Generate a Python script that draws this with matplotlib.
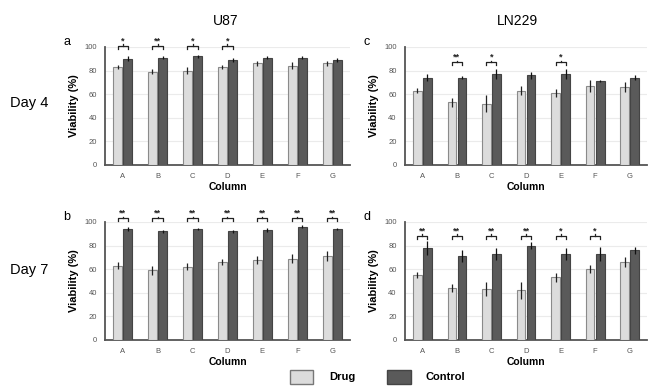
import numpy as np
import matplotlib
matplotlib.use('agg')
import matplotlib.pyplot as plt

plt.rcParams['font.family'] = ['Liberation Sans', 'DejaVu Sans']

columns = ['A', 'B', 'C', 'D', 'E', 'F', 'G']

# panel a: U87, day 4
a_drug = [83, 79, 80, 83, 86, 84, 86]
a_drug_err = [2, 2, 3, 2, 2.5, 3, 2.5]
a_ctrl = [90, 91, 92, 89, 91, 91, 89]
a_ctrl_err = [2, 1.5, 1.5, 2, 1, 1, 1.5]
a_sig = ['*', '**', '*', '*', '', '', '']

# panel b: U87, day 7
b_drug = [63, 59, 62, 66, 68, 69, 71]
b_drug_err = [3, 4, 3, 2.5, 3.5, 4, 4]
b_ctrl = [94, 92, 94, 92, 93, 96, 94]
b_ctrl_err = [1.5, 1, 0.5, 1.5, 1.5, 1, 1]
b_sig = ['**', '**', '**', '**', '**', '**', '**']

# panel c: LN229, day 4
c_drug = [63, 53, 52, 63, 61, 67, 66]
c_drug_err = [2, 4, 7, 4, 3.5, 5, 4.5]
c_ctrl = [74, 74, 77, 76, 77, 71, 74]
c_ctrl_err = [3, 1, 4, 3, 4, 1, 2]
c_sig = ['', '**', '*', '', '*', '', '']

# panel d: LN229, day 7
d_drug = [55, 44, 43, 42, 53, 60, 66]
d_drug_err = [2.5, 3, 6, 7, 4, 3.5, 4]
d_ctrl = [78, 71, 73, 80, 73, 73, 76]
d_ctrl_err = [6, 5, 5, 3, 5, 6, 3]
d_sig = ['**', '**', '**', '**', '*', '*', '']

DRUG_C = '#dcdcdc'
CTRL_C = '#5a5a5a'


def draw_panel(ax, drug, drug_err, ctrl, ctrl_err, sig, sig_y, letter):
    x = np.arange(len(columns))
    w = 0.25
    ax.bar(x - w/2 - 0.02, drug, w, yerr=drug_err, color=DRUG_C, edgecolor='#8a8a8a',
           lw=0.8, error_kw=dict(ecolor='#222222', elinewidth=0.9, capsize=0), zorder=3)
    ax.bar(x + w/2 + 0.02, ctrl, w, yerr=ctrl_err, color=CTRL_C, edgecolor='#444444',
           lw=0.8, error_kw=dict(ecolor='#111111', elinewidth=0.9, capsize=0), zorder=3)
    # significance brackets
    for i, s in enumerate(sig):
        if not s:
            continue
        x0, x1 = i - w/2 - 0.02, i + w/2 + 0.02
        xm = (x0 + x1) / 2
        ax.plot([x0, x0, x1, x1], [sig_y - 2.5, sig_y, sig_y, sig_y - 2.5],
                color='#222222', lw=0.9, clip_on=False, zorder=4)
        ax.plot([xm, xm], [sig_y, sig_y + 1.5], color='#222222', lw=0.9,
                clip_on=False, zorder=4)
        ax.text(xm, sig_y + 0.3, s, ha='center', va='bottom', fontsize=6.5,
                fontweight='bold', color='#222222', clip_on=False)
    ax.set_xlim(-0.5, 6.5)
    ax.set_ylim(0, 100)
    ax.set_yticks([0, 20, 40, 60, 80, 100])
    ax.set_xticks(x)
    ax.set_xticklabels(columns)
    ax.tick_params(length=0, labelsize=5.5, labelcolor='#555555', pad=6)
    ax.grid(axis='y', color='#ebebeb', lw=0.8, zorder=0)
    ax.set_axisbelow(True)
    for sp in ['top', 'right']:
        ax.spines[sp].set_visible(False)
    for sp in ['left', 'bottom']:
        ax.spines[sp].set_color('#555555')
        ax.spines[sp].set_linewidth(1.3)
    ax.set_ylabel('Viability (%)', fontsize=8, fontweight='bold', labelpad=4)
    ax.set_xlabel('Column', fontsize=7.5, fontweight='bold', labelpad=1)
    ax.text(-0.17, 1.04, letter, transform=ax.transAxes, fontsize=9,
            ha='left', va='center')


fig = plt.figure(figsize=(6.49, 3.88), dpi=100)
ax_a = fig.add_axes([0.162, 0.575, 0.377, 0.304])
ax_c = fig.add_axes([0.624, 0.575, 0.373, 0.304])
ax_b = fig.add_axes([0.162, 0.124, 0.377, 0.304])
ax_d = fig.add_axes([0.624, 0.124, 0.373, 0.304])

draw_panel(ax_a, a_drug, a_drug_err, a_ctrl, a_ctrl_err, a_sig, 101, 'a')
draw_panel(ax_c, c_drug, c_drug_err, c_ctrl, c_ctrl_err, c_sig, 87, 'c')
draw_panel(ax_b, b_drug, b_drug_err, b_ctrl, b_ctrl_err, b_sig, 103, 'b')
draw_panel(ax_d, d_drug, d_drug_err, d_ctrl, d_ctrl_err, d_sig, 88, 'd')

fig.text(0.347, 0.945, 'U87', ha='center', va='center', fontsize=10)
fig.text(0.798, 0.945, 'LN229', ha='center', va='center', fontsize=10)
fig.text(0.015, 0.735, 'Day 4', ha='left', va='center', fontsize=10.5)
fig.text(0.015, 0.305, 'Day 7', ha='left', va='center', fontsize=10.5)

# legend at the bottom
fig.patches.append(matplotlib.patches.Rectangle((0.447, 0.01), 0.036, 0.036,
                   transform=fig.transFigure, facecolor=DRUG_C, edgecolor='#777777', lw=1))
fig.text(0.508, 0.028, 'Drug', ha='left', va='center', fontsize=8, fontweight='bold')
fig.patches.append(matplotlib.patches.Rectangle((0.597, 0.01), 0.036, 0.036,
                   transform=fig.transFigure, facecolor=CTRL_C, edgecolor='#444444', lw=1))
fig.text(0.655, 0.028, 'Control', ha='left', va='center', fontsize=8, fontweight='bold')

plt.savefig('out.png', dpi=100)
